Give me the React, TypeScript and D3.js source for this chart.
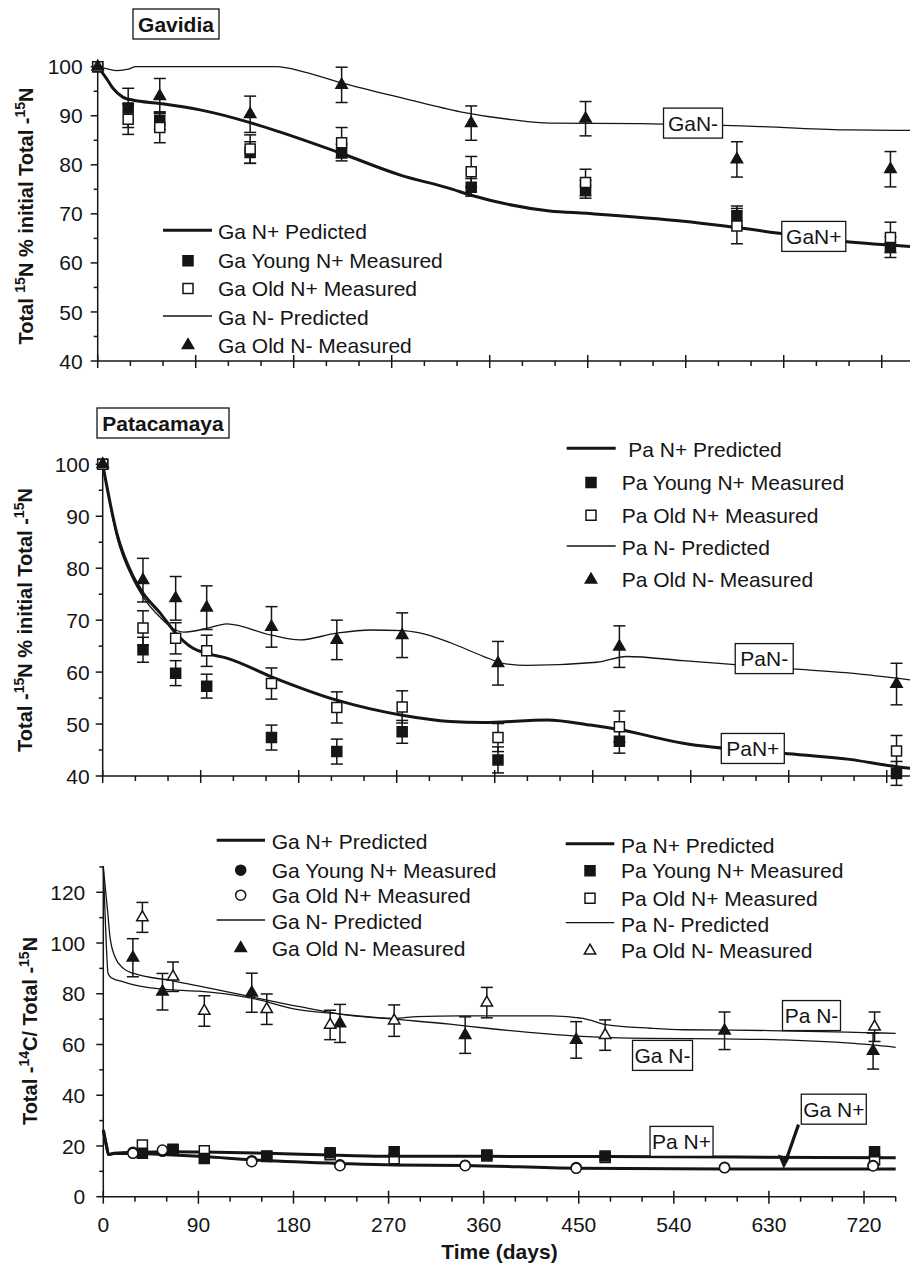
import React from "react";
import * as d3 from "d3";

const FONT = "'Liberation Sans', Arial, Helvetica, sans-serif";
const INK = "#151515";

// ---- Gavidia, total 15N as % of initial ----
const gaDays = [0, 28, 57, 140, 224, 343, 448, 587, 728];
const gaYoungNp = [100, 91.6, 89.0, 82.5, 82.5, 75.4, 75.0, 69.6, 63.2];
const gaYoungNpErr = [0, 4.0, 1.8, 2.2, 1.7, 1.8, 1.8, 2.0, 2.1];
const gaOldNp = [100, 89.3, 87.6, 83.2, 84.5, 78.6, 76.4, 67.5, 65.2];
const gaOldNpErr = [0, 3.1, 3.1, 2.9, 3.1, 3.1, 2.7, 3.6, 3.1];
const gaNmDays = [0, 57, 140, 224, 343, 448, 587, 728];
const gaOldNm = [100, 94.0, 90.3, 96.3, 88.5, 89.4, 81.1, 79.1];
const gaOldNmErr = [0, 3.6, 3.7, 3.6, 3.5, 3.5, 3.6, 3.6];
const gaNpPred: [number, number][] = [
  [0, 100], [8, 97.6], [14, 95.6], [23, 93.8], [32, 93.2], [57, 92.5], [94, 91.2],
  [140, 88.6], [167, 86.7], [224, 82.3], [278, 77.9], [323, 75.2], [343, 73.8],
  [415, 70.6], [449, 70.1], [538, 68.5], [587, 67.2], [688, 64.3], [750, 63.3],
];
const gaNmPred: [number, number][] = [
  [0, 100], [8, 99.6], [18, 99.2], [28, 99.5], [35, 100], [164, 100], [190, 98.9],
  [224, 96.7], [280, 93.6], [333, 90.8], [380, 89.2], [415, 88.5], [498, 88.4],
  [608, 87.8], [691, 87.1], [750, 87.0],
];

// ---- Patacamaya, total 15N as % of initial ----
const paDays = [0, 37, 67, 95.5, 155, 215, 275, 363, 474.5, 729];
const paYoungNp = [100, 64.3, 59.8, 57.3, 47.4, 44.7, 48.5, 43.1, 46.7, 40.5];
const paYoungNpErr = [0, 2.4, 2.4, 2.3, 2.4, 2.4, 2.2, 2.5, 2.3, 2.3];
const paOldNp = [100, 68.5, 66.5, 64.1, 57.8, 53.2, 53.3, 47.4, 49.5, 44.8];
const paOldNpErr = [0, 3.3, 3.0, 3.0, 3.0, 3.0, 3.1, 2.7, 3.0, 3.0];
const paOldNm = [100, 77.7, 74.2, 72.4, 68.7, 66.2, 67.1, 61.7, 64.9, 57.7];
const paOldNmErr = [0, 4.2, 4.2, 4.2, 3.9, 3.8, 4.3, 4.2, 4.0, 4.0];
const paNpPred: [number, number][] = [
  [0, 100], [13, 86.7], [28, 78.4], [37, 75.2], [53, 71.3], [67, 67.5], [83, 64.6],
  [95.5, 63.6], [114, 62.7], [155, 59.1], [215, 54.6], [275, 51.7], [319, 50.5],
  [350, 50.3], [408, 50.8], [448, 49.8], [475, 48.9], [533, 46.3], [625, 44.4],
  [686, 43.2], [729, 41.8], [750, 41.3],
];
const paNmPred: [number, number][] = [
  [0, 100], [13, 86.0], [28, 77.8], [37, 74.5], [53, 70.5], [67, 68.1], [74, 67.7],
  [95.5, 68.4], [114, 69.3], [155, 67.1], [181, 66.2], [215, 67.5], [246, 68.1],
  [275, 68.0], [290, 67.6], [320, 65.6], [350, 63.0], [370, 61.6], [390, 61.3],
  [454, 61.9], [481, 63.0], [533, 62.2], [607, 61.0], [687, 59.8], [750, 58.3],
];

// ---- 14C / 15N ratio, both sites ----
const gaRatioDays = [28, 56, 140.5, 224, 342.5, 447.6, 588, 728.6];
const gaRatioOldNm = [94.2, 80.8, 80.4, 68.3, 63.7, 61.8, 65.4, 57.4];
const gaRatioOldNmErr = [7.5, 7.2, 7.7, 7.5, 7.2, 7.2, 7.4, 7.1];
const gaRatioYoungNp = [17.5, 17.9, 14.2, 12.6, 12.4, 11.5, 11.6, 12.3];
const gaRatioOldNp = [17.1, 18.4, 13.8, 12.2, 12.2, 11.2, 11.4, 12.1];
const paRatioDays = [37, 66, 95.6, 154.7, 214.7, 275.3, 363, 475, 730];
const paRatioOldNm = [110.1, 86.7, 73.2, 73.9, 67.7, 69.4, 76.5, 63.7, 67.0];
const paRatioOldNmErr = [5.9, 5.8, 6.0, 6.0, 5.8, 6.2, 6.0, 6.0, 5.8];
const paRatioYoungNp = [17.1, 18.7, 15.1, 15.8, 17.3, 17.7, 16.4, 16.0, 17.7];
const paRatioOldNp = [20.4, 18.5, 18.1, 16.0, 16.5, 15.0, 16.0, 15.5, 14.5];
const paRatioNmPred: [number, number][] = [
  [0, 129.8], [4, 113], [6.3, 102.5], [11, 94.6], [19, 90.0], [28, 88.1], [66, 85.1],
  [140, 78.8], [186, 74.9], [224, 72.0], [275, 70.3], [297, 71.0], [338, 71.3],
  [424, 71.3], [454, 70.3], [477, 67.7], [518, 66.4], [549, 65.8], [630, 65.5],
  [720, 64.7], [750, 64.4],
];
const gaRatioNmPred: [number, number][] = [
  [0, 129.8], [2, 108], [4.5, 88], [8, 86.2], [19, 84.7], [30, 83.4], [66, 81.5],
  [90, 81.0], [140, 78.3], [186, 73.6], [224, 72.0], [275, 70.0], [328, 68.0],
  [363, 66.4], [448, 63.3], [518, 62.4], [588, 62.2], [644, 61.8], [707, 60.5],
  [750, 58.9],
];
const paRatioNpPred: [number, number][] = [
  [0, 26.3], [3, 20], [5, 16.6], [10, 17.1], [30, 17.5], [66, 17.7], [95, 17.6],
  [155, 17.1], [215, 16.4], [275, 15.9], [363, 15.9], [475, 15.8], [600, 15.6],
  [750, 15.4],
];
const gaRatioNpPred: [number, number][] = [
  [0, 26.3], [3, 20], [5, 16.6], [10, 17.0], [28, 17.0], [66, 16.4], [95, 15.8],
  [140, 14.5], [224, 13.1], [275, 12.5], [342, 12.3], [448, 11.2], [588, 10.9],
  [750, 10.9],
];

const xTicksLabels = [0, 90, 180, 270, 360, 450, 540, 630, 720];

type Scale = d3.ScaleLinear<number, number>;

const topX = d3.scaleLinear().domain([0, 750]).range([97.7, 914.4]);
const topY = d3.scaleLinear().domain([40, 100]).range([361, 66.7]);
const midX = d3.scaleLinear().domain([0, 750]).range([102.7, 919.4]);
const midY = d3.scaleLinear().domain([40, 100]).range([776, 464.3]);
const botX = d3.scaleLinear().domain([0, 750]).range([103.3, 895.7]);
const botY = d3.scaleLinear().domain([0, 130]).range([1196.7, 866.9]);

type Kind = "sqFill" | "sqOpen" | "triFill" | "triOpen" | "cirFill" | "cirOpen";

const symbolFor = (k: Kind) => {
  if (k.startsWith("sq")) return d3.symbol().type(d3.symbolSquare).size(100)();
  if (k.startsWith("tri")) return d3.symbol().type(d3.symbolTriangle).size(56)();
  return d3.symbol().type(d3.symbolCircle).size(80)();
};

const Marker = ({ kind, x, y }: { kind: Kind; x: number; y: number }) => {
  const filled = kind.endsWith("Fill");
  return (
    <path
      d={symbolFor(kind) as string}
      transform={`translate(${x},${y})`}
      fill={filled ? INK : "#fff"}
      stroke={INK}
      strokeWidth={1.5}
    />
  );
};

const ErrorBars = ({ x, y, days, vals, errs }: { x: Scale; y: Scale; days: number[]; vals: number[]; errs: number[] }) => (
  <g stroke={INK} strokeWidth={1.5}>
    {days.map((d, i) => {
      if (!errs[i]) return null;
      const cx = x(d);
      const y1 = y(vals[i] + errs[i]);
      const y2 = y(vals[i] - errs[i]);
      return (
        <g key={i}>
          <line x1={cx} x2={cx} y1={y1} y2={y2} />
          <line x1={cx - 6} x2={cx + 6} y1={y1} y2={y1} />
          <line x1={cx - 6} x2={cx + 6} y1={y2} y2={y2} />
        </g>
      );
    })}
  </g>
);

const Points = ({ x, y, days, vals, kind }: { x: Scale; y: Scale; days: number[]; vals: number[]; kind: Kind }) => (
  <g>
    {days.map((d, i) => (
      <Marker key={i} kind={kind} x={x(d)} y={y(vals[i])} />
    ))}
  </g>
);

const Curve = ({ x, y, pts, thick }: { x: Scale; y: Scale; pts: [number, number][]; thick?: boolean }) => {
  const line = d3
    .line<[number, number]>()
    .x((p) => x(p[0]))
    .y((p) => y(p[1]))
    .curve(d3.curveMonotoneX);
  return <path d={line(pts) as string} fill="none" stroke={INK} strokeWidth={thick ? 3 : 1.3} />;
};

const Axes = ({
  x, y, yMajor, yMinor, labelGap, xLabels,
}: { x: Scale; y: Scale; yMajor: number; yMinor: number; labelGap: number; xLabels?: boolean }) => {
  const [y0, y1] = y.domain();
  const x0 = x(0);
  const yBase = y(y0);
  const majors = d3.range(y0, y1 + 0.01, yMajor).filter((v) => v < y1 + 0.01);
  const minors = d3.range(y0, y1 + 0.01, yMinor).filter((v) => !majors.includes(v));
  const xMinor = d3.range(0, 751, 30);
  return (
    <g stroke={INK} strokeWidth={1.5} fontFamily={FONT}>
      <line x1={x0} x2={x0} y1={yBase} y2={y(y1) - 1} />
      <line x1={x0} x2={x(750)} y1={yBase} y2={yBase} />
      {majors.map((v) => (
        <g key={v}>
          <line x1={x0 - 7} x2={x0} y1={y(v)} y2={y(v)} />
          <text x={x0 - labelGap} y={y(v)} dy="0.36em" textAnchor="end" fontSize={21} fill={INK} stroke="none">
            {v}
          </text>
        </g>
      ))}
      {minors.map((v) => (
        <line key={v} x1={x0 - 4} x2={x0} y1={y(v)} y2={y(v)} />
      ))}
      {xMinor.map((d) =>
        d % 90 === 0 ? (
          <line key={d} x1={x(d)} x2={x(d)} y1={yBase - 6} y2={yBase + 7} />
        ) : (
          <line key={d} x1={x(d)} x2={x(d)} y1={yBase} y2={yBase + 5} />
        )
      )}
      {xLabels &&
        xTicksLabels.map((d) => (
          <text key={d} x={x(d)} y={yBase + 35} textAnchor="middle" fontSize={21} fill={INK} stroke="none">
            {d}
          </text>
        ))}
    </g>
  );
};

const BoxLabel = ({ cx, cy, w, text, bold }: { cx: number; cy: number; w: number; text: string; bold?: boolean }) => (
  <g fontFamily={FONT}>
    <rect x={cx - w / 2} y={cy - 15} width={w} height={30} fill="#fff" stroke={INK} strokeWidth={1.3} />
    <text x={cx} y={cy + 7.5} textAnchor="middle" fontSize={21} fontWeight={bold ? "bold" : "normal"} fill={INK}>
      {text}
    </text>
  </g>
);

type LegendItem = { label: string; kind: Kind | "thick" | "thin" };

const Legend = ({
  items, lineX, markerX, textX, baselines, firstTextX,
}: { items: LegendItem[]; lineX: [number, number]; markerX: number; textX: number; baselines: number[]; firstTextX?: number }) => (
  <g fontFamily={FONT}>
    {items.map((it, i) => {
      const b = baselines[i];
      const tx = i === 0 && firstTextX ? firstTextX : textX;
      return (
        <g key={it.label}>
          {it.kind === "thick" || it.kind === "thin" ? (
            <line x1={lineX[0]} x2={lineX[1]} y1={b - 9} y2={b - 9} stroke={INK} strokeWidth={it.kind === "thick" ? 3 : 1.3} />
          ) : (
            <Marker kind={it.kind} x={markerX} y={b - 7.5} />
          )}
          <text x={tx} y={b} fontSize={21} fill={INK}>
            {it.label}
          </text>
        </g>
      );
    })}
  </g>
);

const YTitle = ({ x, y, parts }: { x: number; y: number; parts: string[] }) => (
  <text
    transform={`translate(${x},${y}) rotate(-90)`}
    textAnchor="middle"
    fontFamily={FONT}
    fontWeight="bold"
    fontSize={20}
    fill={INK}
  >
    {parts.map((p, i) =>
      i % 2 === 1 ? (
        <tspan key={i} fontSize={14} dy={-8}>
          {p}
        </tspan>
      ) : (
        <tspan key={i} dy={i === 0 ? 0 : 8}>
          {p}
        </tspan>
      )
    )}
  </text>
);

export default function App() {
  return (
    <svg
      width={910}
      height={1267}
      style={{ position: "absolute", left: 0, top: 0, background: "#fff" }}
    >
      {/* ---------- Gavidia ---------- */}
      <BoxLabel cx={176} cy={24} w={86} text="Gavidia" bold />
      <YTitle x={33} y={216} parts={["Total ", "15", "N % initial Total -", "15", "N"]} />
      <Axes x={topX} y={topY} yMajor={10} yMinor={5} labelGap={15} />
      <Curve x={topX} y={topY} pts={gaNmPred} />
      <Curve x={topX} y={topY} pts={gaNpPred} thick />
      <ErrorBars x={topX} y={topY} days={gaDays} vals={gaYoungNp} errs={gaYoungNpErr} />
      <ErrorBars x={topX} y={topY} days={gaDays} vals={gaOldNp} errs={gaOldNpErr} />
      <ErrorBars x={topX} y={topY} days={gaNmDays} vals={gaOldNm} errs={gaOldNmErr} />
      <Points x={topX} y={topY} days={gaDays} vals={gaYoungNp} kind="sqFill" />
      <Points x={topX} y={topY} days={gaDays} vals={gaOldNp} kind="sqOpen" />
      <Points x={topX} y={topY} days={gaNmDays} vals={gaOldNm} kind="triFill" />
      <BoxLabel cx={topX(546.7)} cy={topY(88.5)} w={59} text="GaN-" />
      <BoxLabel cx={topX(657.6)} cy={topY(65.4)} w={64} text="GaN+" />
      <Legend
        items={[
          { label: "Ga N+ Pedicted", kind: "thick" },
          { label: "Ga Young N+ Measured", kind: "sqFill" },
          { label: "Ga Old N+ Measured", kind: "sqOpen" },
          { label: "Ga N- Predicted", kind: "thin" },
          { label: "Ga Old N- Measured", kind: "triFill" },
        ]}
        lineX={[163, 212]}
        markerX={188}
        textX={218}
        baselines={[239.3, 268.3, 296, 325, 352.7]}
      />

      {/* ---------- Patacamaya ---------- */}
      <BoxLabel cx={163} cy={423} w={132} text="Patacamaya" bold />
      <YTitle x={31.5} y={620} parts={["Total -", "15", "N % initial Total -", "15", "N"]} />
      <Axes x={midX} y={midY} yMajor={10} yMinor={5} labelGap={13} />
      <Curve x={midX} y={midY} pts={paNmPred} />
      <Curve x={midX} y={midY} pts={paNpPred} thick />
      <ErrorBars x={midX} y={midY} days={paDays} vals={paYoungNp} errs={paYoungNpErr} />
      <ErrorBars x={midX} y={midY} days={paDays} vals={paOldNp} errs={paOldNpErr} />
      <ErrorBars x={midX} y={midY} days={paDays} vals={paOldNm} errs={paOldNmErr} />
      <Points x={midX} y={midY} days={paDays} vals={paYoungNp} kind="sqFill" />
      <Points x={midX} y={midY} days={paDays} vals={paOldNp} kind="sqOpen" />
      <Points x={midX} y={midY} days={paDays} vals={paOldNm} kind="triFill" />
      <BoxLabel cx={midX(607.5)} cy={midY(62.6)} w={58} text="PaN-" />
      <BoxLabel cx={midX(597)} cy={midY(45.3)} w={63} text="PaN+" />
      <Legend
        items={[
          { label: "Pa N+ Predicted", kind: "thick" },
          { label: "Pa Young N+ Measured", kind: "sqFill" },
          { label: "Pa Old N+ Measured", kind: "sqOpen" },
          { label: "Pa N- Predicted", kind: "thin" },
          { label: "Pa Old N- Measured", kind: "triFill" },
        ]}
        lineX={[566.7, 615.7]}
        markerX={591}
        textX={621.7}
        firstTextX={628.3}
        baselines={[457.3, 490, 522.7, 555, 587.3]}
      />

      {/* ---------- 14C / 15N ---------- */}
      <YTitle x={37} y={1031} parts={["Total -", "14", "C/ Total -", "15", "N"]} />
      <Axes x={botX} y={botY} yMajor={20} yMinor={10} labelGap={18} xLabels />
      <Curve x={botX} y={botY} pts={paRatioNmPred} />
      <Curve x={botX} y={botY} pts={gaRatioNmPred} />
      <Curve x={botX} y={botY} pts={paRatioNpPred} thick />
      <Curve x={botX} y={botY} pts={gaRatioNpPred} thick />
      <ErrorBars x={botX} y={botY} days={gaRatioDays} vals={gaRatioOldNm} errs={gaRatioOldNmErr} />
      <ErrorBars x={botX} y={botY} days={paRatioDays} vals={paRatioOldNm} errs={paRatioOldNmErr} />
      <Points x={botX} y={botY} days={paRatioDays} vals={paRatioOldNp} kind="sqOpen" />
      <Points x={botX} y={botY} days={gaRatioDays} vals={gaRatioYoungNp} kind="cirFill" />
      <Points x={botX} y={botY} days={paRatioDays} vals={paRatioYoungNp} kind="sqFill" />
      <Points x={botX} y={botY} days={gaRatioDays} vals={gaRatioOldNp} kind="cirOpen" />
      <Points x={botX} y={botY} days={gaRatioDays} vals={gaRatioOldNm} kind="triFill" />
      <Points x={botX} y={botY} days={paRatioDays} vals={paRatioOldNm} kind="triOpen" />
      <BoxLabel cx={botX(670.3)} cy={botY(71.4)} w={58} text="Pa N-" />
      <BoxLabel cx={botX(529.3)} cy={botY(55.7)} w={60} text="Ga N-" />
      <BoxLabel cx={botX(547.3)} cy={botY(21.8)} w={63} text="Pa N+" />
      <line
        x1={botX(658)}
        y1={botY(28.4)}
        x2={botX(645.5)}
        y2={botY(13.5)}
        stroke={INK}
        strokeWidth={3.2}
      />
      <path
        d={`M${botX(644)},${botY(11)} L${botX(638.5)},${botY(16.6)} L${botX(649.5)},${botY(15.3)} Z`}
        fill={INK}
      />
      <BoxLabel cx={botX(691.4)} cy={botY(34.5)} w={65} text="Ga N+" />
      <Legend
        items={[
          { label: "Ga N+ Predicted", kind: "thick" },
          { label: "Ga Young N+ Measured", kind: "cirFill" },
          { label: "Ga Old N+ Measured", kind: "cirOpen" },
          { label: "Ga N- Predicted", kind: "thin" },
          { label: "Ga Old N- Measured", kind: "triFill" },
        ]}
        lineX={[216.7, 265]}
        markerX={240.7}
        textX={271.7}
        baselines={[849.3, 877.7, 902.7, 929, 955.7]}
      />
      <Legend
        items={[
          { label: "Pa N+ Predicted", kind: "thick" },
          { label: "Pa Young N+ Measured", kind: "sqFill" },
          { label: "Pa Old N+ Measured", kind: "sqOpen" },
          { label: "Pa N- Predicted", kind: "thin" },
          { label: "Pa Old N- Measured", kind: "triOpen" },
        ]}
        lineX={[565.7, 614.3]}
        markerX={590}
        textX={621}
        baselines={[852.7, 878.3, 905.7, 931.7, 958.3]}
      />
      <text x={botX(375)} y={1259} textAnchor="middle" fontFamily={FONT} fontWeight="bold" fontSize={21} fill={INK}>
        Time (days)
      </text>
    </svg>
  );
}
